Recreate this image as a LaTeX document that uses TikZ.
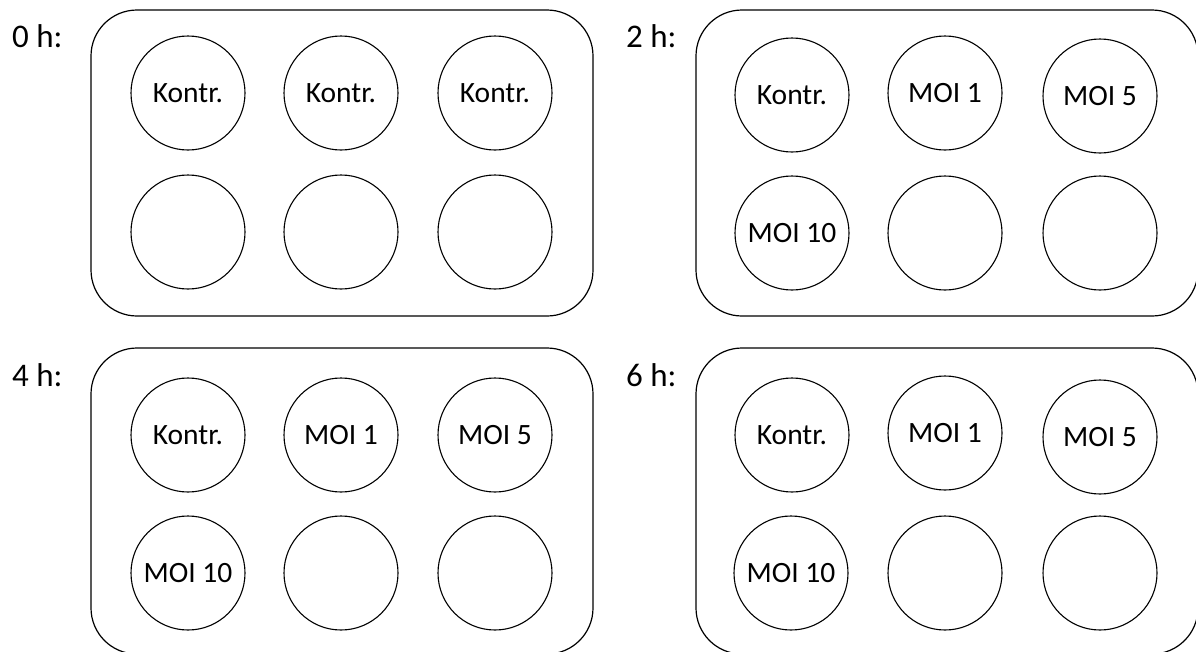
\documentclass[tikz,border=0pt]{standalone}
\usepackage{fontspec}
\setmainfont{Carlito}
\begin{document}
\begin{tikzpicture}[x=1pt,y=-1pt,
  plate/.style={draw, line width=1.2pt, rounded corners=46pt, minimum width=502pt, minimum height=306pt, inner sep=0pt},
  well/.style={draw, circle, line width=1.1pt, minimum size=114pt, inner sep=0pt, font=\fontsize{29.5}{32}\selectfont},
  tlabel/.style={anchor=west, inner sep=0pt, font=\fontsize{33}{36}\selectfont}]
\useasboundingbox (0,0) rectangle (1196,651);
\clip (0,0) rectangle (1196,651);

% time point labels
\node[tlabel] (t0) at (12,36.5) {0 h:};
\node[tlabel] (t2) at (626,36.5) {2 h:};
\node[tlabel] (t4) at (12,375) {4 h:};
\node[tlabel] (t6) at (626,375) {6 h:};

% six-well plates
\node[plate] (pA) at (342,163) {};
\node[plate] (pB) at (947,163) {};
\node[plate] (pC) at (342,501) {};
\node[plate] (pD) at (947,501) {};

% plate 0 h
\node[well] (a1) at (188,93) {Kontr.};
\node[well] (a2) at (341,93) {Kontr.};
\node[well] (a3) at (495,93) {Kontr.};
\node[well] (a4) at (188,232) {};
\node[well] (a5) at (341,232) {};
\node[well] (a6) at (495,232) {};

% plate 2 h
\node[well] (b1) at (792,95) {Kontr.};
\node[well] (b2) at (945,93) {MOI 1};
\node[well] (b3) at (1100,96) {MOI 5};
\node[well] (b4) at (792,233) {MOI 10};
\node[well] (b5) at (945,233) {};
\node[well] (b6) at (1100,233) {};

% plate 4 h
\node[well] (c1) at (188,435) {Kontr.};
\node[well] (c2) at (341,435) {MOI 1};
\node[well] (c3) at (495,435) {MOI 5};
\node[well] (c4) at (188,573) {MOI 10};
\node[well] (c5) at (341,573) {};
\node[well] (c6) at (495,573) {};

% plate 6 h
\node[well] (d1) at (792,435) {Kontr.};
\node[well] (d2) at (945,433) {MOI 1};
\node[well] (d3) at (1100,437) {MOI 5};
\node[well] (d4) at (791,573) {MOI 10};
\node[well] (d5) at (945,573) {};
\node[well] (d6) at (1100,573) {};
\end{tikzpicture}
\end{document}
